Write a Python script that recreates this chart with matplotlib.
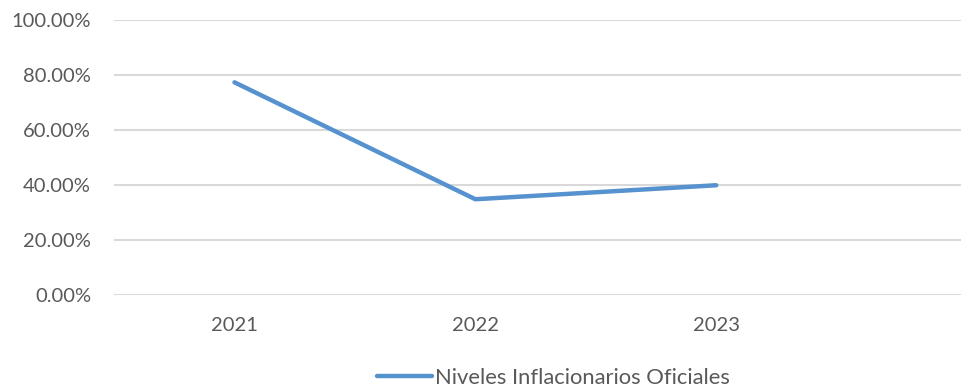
import matplotlib
matplotlib.use("Agg")
import matplotlib.pyplot as plt
from matplotlib.ticker import FuncFormatter

years = ["2021", "2022", "2023"]
values = [0.773, 0.347, 0.398]
series_name = "Niveles Inflacionarios Oficiales"
y_ticks = [0.0, 0.2, 0.4, 0.6, 0.8, 1.0]

plt.rcParams['font.family'] = ['Lato', 'DejaVu Sans']
text_color = '#595959'
line_color = '#5592cf'
grid_color = '#d9d9d9'

W, H = 962, 387
fig = plt.figure(figsize=(W / 100, H / 100), dpi=100)
ax = fig.add_axes([114 / W, 1 - 294.5 / H, 1 - 114 / W, (294.5 - 20) / H])

x = list(range(len(years)))
line, = ax.plot(x, values, color=line_color, linewidth=3.2,
                solid_capstyle='round', solid_joinstyle='round',
                label=series_name, zorder=3)

ax.set_xlim(-0.5, 3.02)
ax.set_ylim(0, 1.0)
ax.set_yticks(y_ticks)
ax.yaxis.set_major_formatter(FuncFormatter(lambda v, p: f"{v*100:.2f}%"))
ax.set_xticks(x)
ax.set_xticklabels(years)

ax.grid(axis='y', color=grid_color, linewidth=1.5, zorder=0)
ax.set_axisbelow(True)
for s in ax.spines.values():
    s.set_visible(False)
ax.tick_params(axis='both', length=0, labelsize=14.5, colors=text_color)
ax.tick_params(axis='y', pad=16.5)
ax.tick_params(axis='x', pad=16)

fig.legend(handles=[line], labels=[series_name], loc='center left',
           bbox_to_anchor=(377 / W, 1 - 378 / H), frameon=False,
           fontsize=15.8, labelcolor=text_color, handlelength=2.5,
           handletextpad=0.15, borderpad=0, borderaxespad=0)

fig.savefig("out.png", dpi=100, facecolor='white')
